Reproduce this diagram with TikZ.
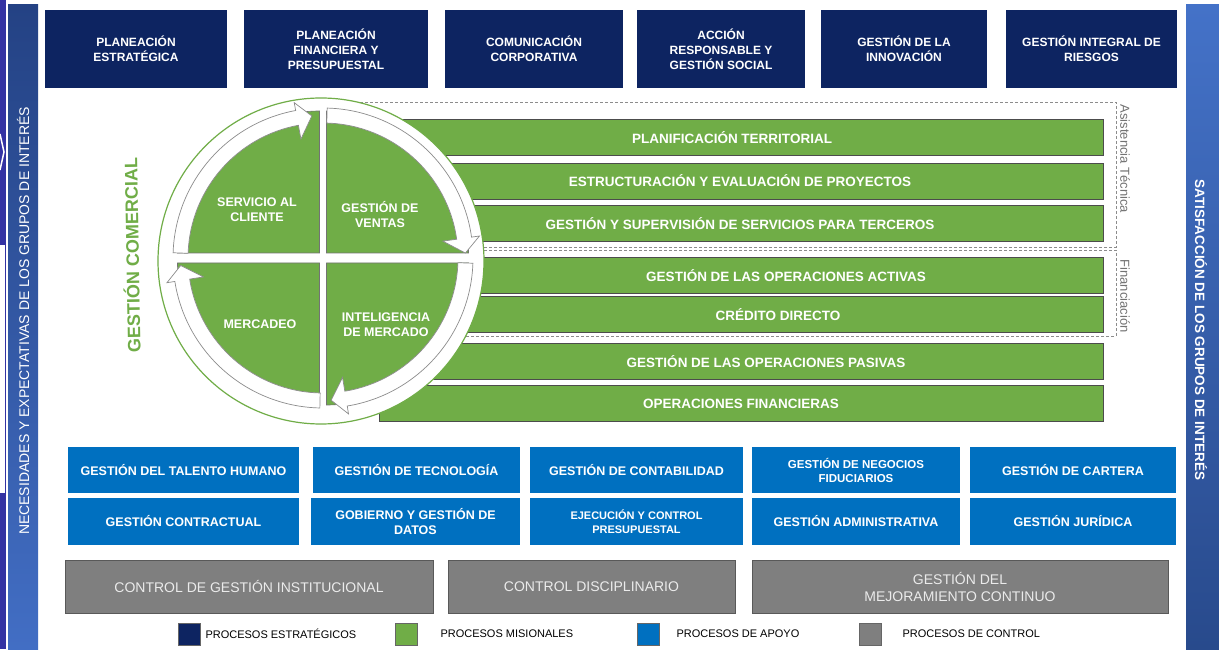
\documentclass[tikz,border=0pt]{standalone}
\usepackage{fontspec}
\setmainfont{Liberation Sans}
\usepackage{tikz}
\definecolor{estrnavy}{RGB}{13,36,97}
\definecolor{misgreen}{RGB}{112,173,71}
\definecolor{apoyoblue}{RGB}{0,112,192}
\definecolor{ctrlgray}{RGB}{127,127,127}
\newcommand{\ringarrow}[3]{%
  \draw[ringarr] (#1:150) arc[start angle=#1, end angle=#2, radius=150]
    -- (#2:158) -- (#3:142.5) -- (#2:121) -- (#2:135)
    arc[start angle=#2, end angle=#1, radius=135] -- cycle;}

\begin{document}
\begin{tikzpicture}
[x=1pt, y=1pt, line width=1pt,
 estr/.style={fill=estrnavy, text=white, inner sep=0pt, align=center, minimum height=78, font=\fontsize{12}{15}\selectfont\bfseries},
 mision/.style={fill=misgreen, draw=black!70, line width=0.8pt, text=white, inner sep=0pt, minimum height=36, font=\fontsize{13.5}{15}\selectfont\bfseries},
 apoyo/.style={fill=apoyoblue, text=white, inner sep=0pt, align=center, font=\fontsize{12.5}{15}\selectfont\bfseries},
 control/.style={fill=ctrlgray, draw=black!65, line width=0.8pt, text=white!92!black, inner sep=0pt, align=center, minimum height=53, font=\fontsize{14}{17}\selectfont},
 quad/.style={fill=misgreen, draw=black!55, line width=0.6pt},
 quadtext/.style={text=white, align=center, font=\fontsize{12.5}{15}\selectfont\bfseries},
 ringarr/.style={fill=white, draw=black!45, line width=0.7pt},
 grupo/.style={draw=black!45, dash pattern=on 3pt off 2pt, line width=0.7pt},
 grupotext/.style={text=black!55, rotate=-90, font=\fontsize{13}{13}\selectfont},
 legbox/.style={draw=black!60, line width=0.6pt, minimum size=22, inner sep=0pt},
 legtext/.style={anchor=west, inner sep=0pt, font=\fontsize{11}{13}\selectfont}]
\useasboundingbox (0,0) rectangle (1219,649);
\fill[white] (0,0) rectangle (1219,649);
%% side bars
\fill[blue!55!black!80] (0,0) rectangle (6,649);
\fill[white] (0,156) rectangle (5,404);
\draw[white, line width=1.5pt] (0,515) -- (4,497) -- (0,479);
\shade[top color={rgb,255:red,36;green,66;blue,132}, bottom color={rgb,255:red,66;green,110;blue,196}] (8,0) rectangle (38,644); %% left bar
\shade[top color={rgb,255:red,68;green,114;blue,200}, bottom color={rgb,255:red,40;green,74;blue,140}] (1186,0) rectangle (1219,644); %% right bar
\node[rotate=90, text=white, font=\fontsize{14}{14}\selectfont] (necesidades) at (23,328) {NECESIDADES Y EXPECTATIVAS DE LOS GRUPOS DE INTERÉS};
\node[rotate=-90, text=white, font=\fontsize{13.5}{14}\selectfont\bfseries] (satisfaccion) at (1201,319) {SATISFACCIÓN DE LOS GRUPOS DE INTERÉS};
%% estrategicos
\node[estr, minimum width=182] (planest) at (136,600) {PLANEACIÓN\\ESTRATÉGICA};
\node[estr, minimum width=184] (planfin) at (336,600) {PLANEACIÓN\\FINANCIERA Y\\PRESUPUESTAL};
\node[estr, minimum width=178] (comunic) at (534,600) {COMUNICACIÓN\\CORPORATIVA};
\node[estr, minimum width=168] (accion) at (721,600) {ACCIÓN\\RESPONSABLE Y\\GESTIÓN SOCIAL};
\node[estr, minimum width=166] (innov) at (904,600) {GESTIÓN DE LA\\INNOVACIÓN};
\node[estr, minimum width=171] (riesgos) at (1091.5,600) {GESTIÓN INTEGRAL DE\\RIESGOS};
%% grupos punteados
\draw[grupo] (300,402) rectangle (1116,547); %% Asistencia
\draw[grupo] (300,313) rectangle (1116,399); %% Financiacion
\node[grupotext] (asistencia) at (1125,490) {Asistencia Técnica};
\node[grupotext] (financiacion) at (1125,353) {Financiación};
%% misionales
\node[mision, minimum width=742] (territorial) at (732,511.5) {PLANIFICACIÓN TERRITORIAL};
\node[mision, minimum width=726] (proyectos) at (740,468) {ESTRUCTURACIÓN Y EVALUACIÓN DE PROYECTOS};
\node[mision, minimum width=726] (terceros) at (740,425.5) {GESTIÓN Y SUPERVISIÓN DE SERVICIOS PARA TERCEROS};
\node[mision, minimum width=634] (activas) at (786,373.5) {GESTIÓN DE LAS OPERACIONES ACTIVAS};
\node[mision, minimum width=650] (credito) at (778,334.5) {CRÉDITO DIRECTO};
\node[mision, minimum width=674] (pasivas) at (766,287.5) {GESTIÓN DE LAS OPERACIONES PASIVAS};
\node[mision, minimum width=724] (opfin) at (741,245.5) {OPERACIONES FINANCIERAS};
%% gestion comercial
\draw[misgreen, line width=1.2pt, fill=white] (321,388) circle[radius=163]; %% disc
\begin{scope}[shift={(323,391)}]
\draw[quad] (-3.5,5) -- ++(-142,0) arc[start angle=180, end angle=90, radius=142] -- cycle; %% TL
\draw[quad] (3.5,5) -- ++(0,142) arc[start angle=90, end angle=0, radius=142] -- cycle; %% TR
\draw[quad] (3.5,-5) -- ++(142,0) arc[start angle=0, end angle=-90, radius=142] -- cycle; %% BR
\draw[quad] (-3.5,-5) -- ++(0,-142) arc[start angle=-90, end angle=-180, radius=142] -- cycle; %% BL
\ringarrow{178}{100.5}{94.5}
\ringarrow{88.4}{8}{2}
\ringarrow{-2}{-80.7}{-86.7}
\ringarrow{-91.2}{-171}{-177}
\end{scope}
\node[quadtext] (servicio) at (257,439) {SERVICIO AL\\CLIENTE};
\node[quadtext] (ventas) at (380,434) {GESTIÓN DE\\VENTAS};
\node[quadtext] (mercadeo) at (260,325) {MERCADEO};
\node[quadtext] (inteligencia) at (386,324) {INTELIGENCIA\\DE MERCADO};
\node[rotate=91, text=misgreen, font=\fontsize{18}{18}\selectfont\bfseries] (comercial) at (131,394) {GESTIÓN COMERCIAL};
%% apoyo
\node[apoyo, minimum width=231, minimum height=46] (talento) at (183.5,179) {GESTIÓN DEL TALENTO HUMANO};
\node[apoyo, minimum width=207, minimum height=46] (tecno) at (416.5,179) {GESTIÓN DE TECNOLOGÍA};
\node[apoyo, minimum width=213, minimum height=46] (contab) at (636.5,179) {GESTIÓN DE CONTABILIDAD};
\node[apoyo, minimum width=208, minimum height=46, font=\fontsize{11.5}{14}\selectfont\bfseries] (fiduc) at (856,179) {GESTIÓN DE NEGOCIOS\\FIDUCIARIOS};
\node[apoyo, minimum width=206, minimum height=46] (cartera) at (1073,179) {GESTIÓN DE CARTERA};
\node[apoyo, minimum width=231, minimum height=47] (contract) at (183.5,127.5) {GESTIÓN CONTRACTUAL};
\node[apoyo, minimum width=209, minimum height=47] (datos) at (415.5,127.5) {GOBIERNO Y GESTIÓN DE\\DATOS};
\node[apoyo, minimum width=213, minimum height=47, font=\fontsize{11}{14}\selectfont\bfseries] (presup) at (636.5,127.5) {EJECUCIÓN Y CONTROL\\PRESUPUESTAL};
\node[apoyo, minimum width=208, minimum height=47] (admin) at (856,127.5) {GESTIÓN ADMINISTRATIVA};
\node[apoyo, minimum width=206, minimum height=47] (juridica) at (1073,127.5) {GESTIÓN JURÍDICA};
%% control
\node[control, minimum width=368] (ctrlinst) at (249,62.5) {CONTROL DE GESTIÓN INSTITUCIONAL};
\node[control, minimum width=287] (ctrldisc) at (591.5,62.5) {CONTROL DISCIPLINARIO};
\node[control, minimum width=416] (mejora) at (960,62.5) {GESTIÓN DEL\\MEJORAMIENTO CONTINUO};
%% leyenda
\node[legbox, fill=estrnavy] (legestr) at (189,15) {};
\node[legtext] (txtestr) at (205,15) {PROCESOS ESTRATÉGICOS};
\node[legbox, fill=misgreen] (legmis) at (406.5,15) {};
\node[legtext] (txtmis) at (440,15) {PROCESOS MISIONALES};
\node[legbox, fill=apoyoblue] (legapoyo) at (648.5,15) {};
\node[legtext] (txtapoyo) at (676,15) {PROCESOS DE APOYO};
\node[legbox, fill=ctrlgray] (legctrl) at (870.5,15) {};
\node[legtext] (txtctrl) at (902,15) {PROCESOS DE CONTROL};
\end{tikzpicture}
\end{document}
